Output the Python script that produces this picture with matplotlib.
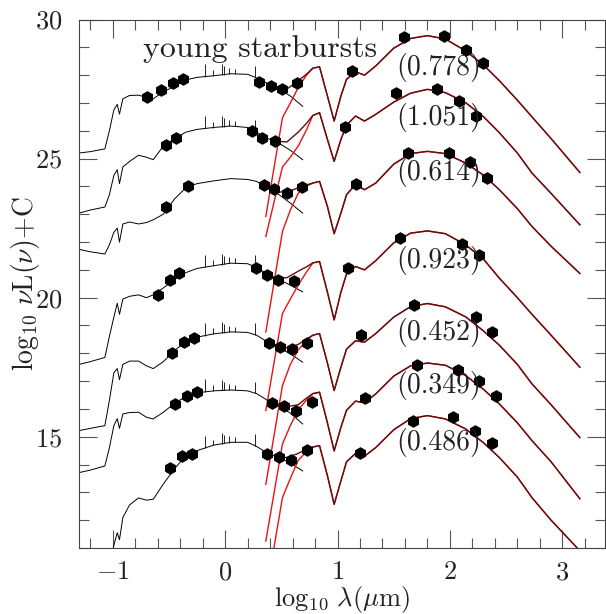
import numpy as np
import matplotlib.pyplot as plt
from matplotlib.ticker import MultipleLocator

plt.rcParams['font.family'] = ['cmr10']
plt.rcParams['mathtext.fontset'] = 'cm'
plt.rcParams['axes.formatter.use_mathtext'] = True

# stellar spectra (black), common wavelength grid
sx = [-1.30, -1.20, -1.07, -1.03, -0.99, -0.96, -0.94, -0.91, -0.85, -0.77, -0.70, -0.64,
      -0.55, -0.45, -0.35, -0.25, -0.10, 0.05, 0.20, 0.28, 0.38, 0.48, 0.58, 0.69]
star1 = [25.20, 25.25, 25.35, 26.00, 26.75, 26.95, 26.60, 27.15, 27.27, 27.28, 27.20, 27.15,
         27.40, 27.60, 27.83, 27.92, 27.98, 28.05, 28.03, 27.90, 27.70, 27.50, 27.25, 26.88]
star2 = [23.04, 23.15, 23.26, 23.70, 24.40, 24.60, 24.10, 24.70, 24.90, 25.12, 25.05, 24.96,
         25.45, 25.72, 25.95, 26.05, 26.12, 26.17, 26.12, 25.95, 25.72, 25.55, 25.30, 24.96]
star3 = [21.74, 21.65, 21.57, 21.90, 22.35, 22.50, 22.00, 22.65, 22.72, 22.65, 22.70, 22.80,
         23.00, 23.55, 23.95, 24.10, 24.20, 24.28, 24.25, 24.18, 23.95, 23.70, 23.40, 23.04]
star4 = [17.60, 17.70, 17.85, 18.60, 19.30, 19.80, 19.40, 19.95, 20.05, 20.10, 20.00, 20.10,
         20.35, 20.65, 20.90, 21.05, 21.15, 21.24, 21.22, 21.08, 20.85, 20.65, 20.45, 20.21]
star5 = [15.22, 15.30, 15.40, 16.30, 17.30, 17.45, 17.05, 17.60, 17.72, 17.72, 17.55, 17.45,
         17.70, 18.10, 18.42, 18.58, 18.70, 18.77, 18.75, 18.65, 18.40, 18.20, 17.98, 17.68]
star6 = [13.71, 13.80, 13.95, 14.60, 15.40, 15.65, 15.30, 15.82, 15.87, 15.88, 15.70, 15.64,
         15.88, 16.20, 16.45, 16.58, 16.65, 16.68, 16.65, 16.55, 16.30, 16.10, 15.85, 15.46]
star7 = [9.50, 9.50, 9.60, 10.20, 11.10, 11.55, 11.30, 12.10, 12.55, 12.80, 12.72, 12.75,
         13.30, 13.85, 14.32, 14.50, 14.70, 14.80, 14.80, 14.65, 14.40, 14.25, 14.05, 13.77]

# emission lines on the stellar spectra
line_x = [-0.18, -0.11, -0.03, -0.01, 0.035, 0.09, 0.27]
line_h = [0.45, 0.20, 0.38, 0.30, 0.22, 0.18, 0.42]
line_on = [1, 1, 0, 1, 1, 1, 1]

# dust (red) rise and total (dark) join in the near-IR
red_x = [0.362, 0.51, 0.58, 0.65, 0.72]
tot_x = [0.45, 0.55, 0.65, 0.72]
red1 = [22.92, 26.47, 27.00, 27.55, 27.98]
red2 = [22.20, 24.70, 25.05, 25.45, 26.00]
red3 = [18.77, 22.38, 23.15, 23.75, 24.00]
red4 = [15.94, 19.43, 19.95, 20.45, 20.90]
red5 = [13.29, 16.84, 17.60, 18.12, 18.45]
red6 = [11.25, 14.74, 15.40, 15.97, 16.30]
red7 = [9.30, 12.81, 13.50, 14.15, 14.45]
tot1 = [27.50, 27.50, 27.80, 28.02]
tot2 = [25.62, 25.60, 25.95, 26.25]
tot3 = [23.80, 23.80, 23.95, 24.05]
tot4 = [20.70, 20.72, 20.95, 21.10]
tot5 = [18.25, 18.20, 18.32, 18.50]
tot6 = [16.20, 16.08, 16.15, 16.38]
tot7 = [14.30, 14.25, 14.40, 14.55]

# mid/far-IR dust emission
dust_x = [0.78, 0.84, 0.91, 0.97, 1.03, 1.08, 1.16, 1.24, 1.34, 1.50, 1.65, 1.80, 1.96,
          2.14, 2.30, 2.44, 2.60, 2.73, 2.90, 3.156]
dust1 = [28.25, 28.30, 27.25, 26.35, 27.25, 27.85, 28.12, 28.00, 28.33, 28.97, 29.32, 29.42,
         29.30, 28.87, 28.36, 27.80, 27.10, 26.50, 25.72, 24.50]
dust2 = [26.55, 26.65, 25.69, 24.90, 25.69, 26.20, 26.53, 26.35, 26.59, 27.03, 27.35, 27.49,
         27.37, 27.01, 26.50, 25.93, 25.20, 24.48, 23.75, 22.62]
dust3 = [24.12, 24.18, 23.28, 22.30, 23.04, 23.70, 24.07, 23.88, 24.12, 24.80, 25.18, 25.26,
         25.18, 24.84, 24.40, 23.88, 23.20, 22.56, 21.85, 20.87]
dust4 = [21.25, 21.30, 20.20, 19.20, 20.20, 20.85, 21.12, 21.00, 21.33, 21.97, 22.32, 22.40,
         22.30, 21.90, 21.38, 20.70, 20.00, 19.40, 18.65, 17.50]
dust5 = [18.65, 18.71, 17.65, 16.66, 17.50, 18.15, 18.45, 18.40, 18.71, 19.30, 19.68, 19.79,
         19.67, 19.31, 18.80, 18.29, 17.60, 16.90, 16.15, 14.97]
dust6 = [16.55, 16.60, 15.50, 14.49, 15.34, 15.95, 16.28, 16.22, 16.54, 17.18, 17.55, 17.65,
         17.57, 17.20, 16.70, 16.18, 15.50, 14.86, 14.10, 12.77]
dust7 = [14.63, 14.68, 13.60, 12.57, 13.41, 14.10, 14.40, 14.30, 14.61, 15.25, 15.65, 15.76,
         15.64, 15.28, 14.78, 14.25, 13.55, 12.81, 12.00, 10.90]

# photometry
obs_x1 = [-0.696, -0.567, -0.462, -0.371, 0.302, 0.406, 0.510, 0.638, 1.130, 1.591, 1.947, 2.140, 2.290]
obs_y1 = [27.23, 27.47, 27.71, 27.86, 27.77, 27.61, 27.49, 27.73, 28.15, 29.36, 29.39, 28.91, 28.45]
obs_x2 = [-0.522, -0.433, 0.243, 0.330, 0.444, 1.067, 1.523, 1.887, 2.080, 2.230]
obs_y2 = [25.50, 25.74, 26.00, 25.75, 25.65, 26.14, 27.37, 27.49, 27.07, 26.53]
obs_x3 = [-0.527, -0.329, 0.347, 0.436, 0.548, 0.687, 1.167, 1.630, 1.990, 2.180, 2.330]
obs_y3 = [23.27, 24.00, 24.06, 23.91, 23.76, 23.98, 24.09, 25.21, 25.21, 24.87, 24.30]
obs_x4 = [-0.600, -0.490, -0.409, 0.273, 0.370, 0.471, 0.613, 1.093, 1.560, 2.110, 2.260]
obs_y4 = [20.09, 20.63, 20.87, 21.05, 20.81, 20.63, 20.61, 21.05, 22.14, 21.92, 21.53]
obs_x5 = [-0.477, -0.370, -0.276, 0.391, 0.489, 0.598, 0.731, 1.206, 1.680, 2.230, 2.370]
obs_y5 = [18.01, 18.41, 18.55, 18.37, 18.23, 18.17, 18.37, 18.65, 19.73, 19.31, 18.77]
obs_x6 = [-0.447, -0.340, -0.252, 0.420, 0.524, 0.628, 0.770, 1.244, 1.710, 2.074, 2.260, 2.410]
obs_y6 = [16.18, 16.48, 16.60, 16.22, 16.12, 15.94, 16.26, 16.38, 17.59, 17.41, 17.02, 16.45]
obs_x7 = [-0.489, -0.385, -0.296, 0.376, 0.480, 0.584, 0.726, 1.197, 1.670, 2.030, 2.220, 2.370]
obs_y7 = [13.86, 14.29, 14.38, 14.38, 14.28, 14.16, 14.52, 14.43, 15.58, 15.72, 15.19, 14.77]

labels = ['(0.778)', '(1.051)', '(0.614)', '(0.923)', '(0.452)', '(0.349)', '(0.486)']
label_y = [28.29, 26.48, 24.49, 21.35, 18.75, 16.84, 14.78]

stars = [star1, star2, star3, star4, star5, star6, star7]
reds = [red1, red2, red3, red4, red5, red6, red7]
tots = [tot1, tot2, tot3, tot4, tot5, tot6, tot7]
dusts = [dust1, dust2, dust3, dust4, dust5, dust6, dust7]
obs_x = [obs_x1, obs_x2, obs_x3, obs_x4, obs_x5, obs_x6, obs_x7]
obs_y = [obs_y1, obs_y2, obs_y3, obs_y4, obs_y5, obs_y6, obs_y7]

fig = plt.figure(figsize=(6.06, 6.14), dpi=100)
ax = fig.add_axes([0.1304, 0.1075, 0.868, 0.8607])

for i in range(7):
    ax.plot(sx, stars[i], color='black', lw=0.7)
    if line_on[i]:
        base = np.interp(line_x, sx, stars[i])
        ax.vlines(line_x, base, base + np.array(line_h), color='black', lw=0.6)
    ax.plot(red_x + dust_x, reds[i] + dusts[i], color='#ee1111', lw=1.0)
    ax.plot(tot_x + dust_x, tots[i] + dusts[i], color='#5e1010', lw=1.0)
    ax.plot(obs_x[i], obs_y[i], 'h', color='black', ms=8)
    ax.text(1.52, label_y[i], labels[i], fontsize=20, ha='left', va='center', color='#222222')

ax.text(0.307, 28.94, 'young starbursts', fontsize=23, ha='center', va='center', color='#222222')

ax.set_xlim(-1.30, 3.38)
ax.set_ylim(11, 30)
ax.xaxis.set_major_locator(MultipleLocator(1))
ax.xaxis.set_minor_locator(MultipleLocator(0.2))
ax.yaxis.set_major_locator(MultipleLocator(5))
ax.yaxis.set_minor_locator(MultipleLocator(1))
ax.tick_params(which='both', direction='in', top=True, right=True, color='#555555',
               width=0.8, labelsize=19, labelcolor='#222222')
ax.tick_params(which='major', length=13, pad=12)
ax.tick_params(axis='x', which='major', pad=9)
ax.tick_params(which='minor', length=7)
for s in ax.spines.values():
    s.set_color('#444444')
    s.set_linewidth(0.8)

ax.set_xlabel(r'$\mathrm{log}_{10}\ \lambda(\mu\mathrm{m})$', fontsize=19, color='#222222')
ax.xaxis.set_label_coords(0.5, -0.068)
ax.set_ylabel(r'$\mathrm{log}_{10}\ \nu\mathrm{L}(\nu){+}\mathrm{C}$', fontsize=20, color='#222222')
ax.yaxis.set_label_coords(-0.070, 0.5)

fig.savefig('out.png', dpi=100)
